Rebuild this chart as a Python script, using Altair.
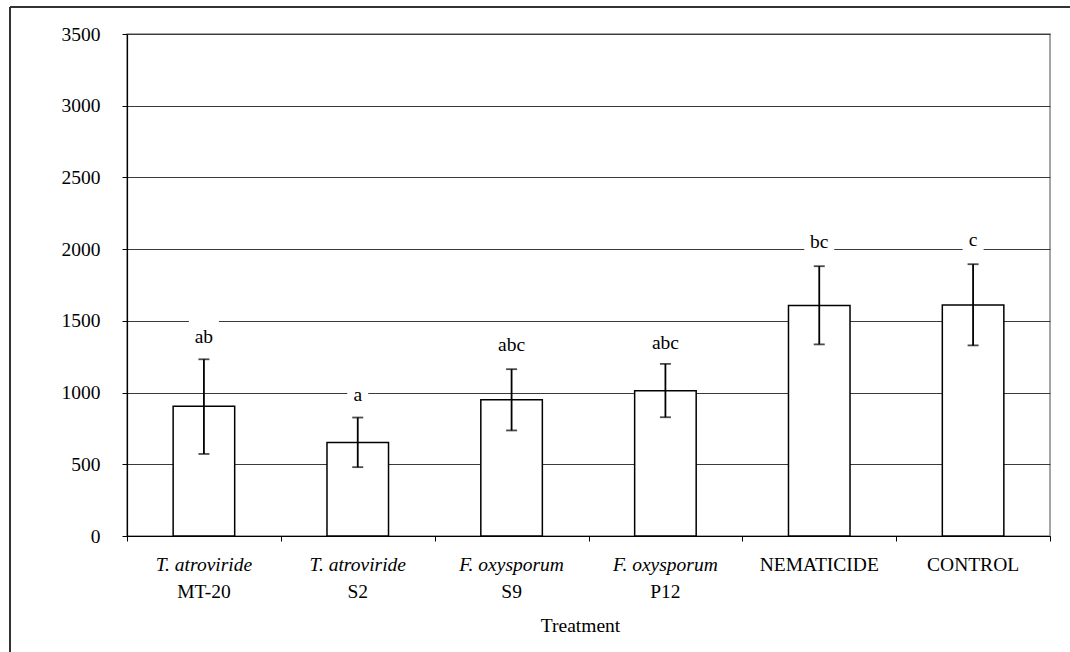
import altair as alt
import pandas as pd

# ---- data ----
line1 = ["T. atroviride", "T. atroviride", "F. oxysporum", "F. oxysporum", "NEMATICIDE", "CONTROL"]
line2 = ["MT-20", "S2", "S9", "P12", "", ""]
italic = [True, True, True, True, False, False]
means = [905, 652, 950, 1012, 1607, 1610]
err_hi = [1232, 826, 1163, 1200, 1881, 1895]
err_lo = [572, 480, 736, 828, 1336, 1329]
letters = ["ab", "a", "abc", "abc", "bc", "c"]
letter_y = [1385, 981, 1329, 1345, 2048, 2066]
y_ticks = [0, 500, 1000, 1500, 2000, 2500, 3000, 3500]

W, H = 923, 502
n = len(line1)
px = n / W  # data units per pixel on x

df = pd.DataFrame({
    "idx": list(range(n)),
    "line1": line1,
    "line2": line2,
    "italic": italic,
    "mean": means,
    "hi": err_hi,
    "lo": err_lo,
    "letter": letters,
    "ly": letter_y,
})
df["bx0"] = df["idx"] - 0.2
df["bx1"] = df["idx"] + 0.2
df["hw"] = df["letter"].str.len() * 4.5 + 6
df["lx0"] = df["idx"] - df["hw"] * px
df["lx1"] = df["idx"] + df["hw"] * px

FONT = "Liberation Serif"
FS = 19.5
xscale = alt.Scale(domain=[-0.5, n - 0.5], nice=False, zero=False)
yscale = alt.Scale(domain=[0, 3500], nice=False)

xaxis = alt.Axis(values=[i - 0.5 for i in range(n + 1)], labels=False, grid=False,
                 tickSize=5, tickColor="black", domainColor="black", domainWidth=1.2,
                 title="Treatment", titleFont=FONT, titleFontSize=FS, titleFontWeight="normal",
                 titleColor="black", titleX=453, titleY=89, titleBaseline="middle",
                 titleAlign="center", titleAnchor="start")
yaxis = alt.Axis(values=y_ticks, format="d", grid=True, gridColor="#3a3a3a", gridWidth=1,
                 tickSize=5, tickColor="black", domainColor="black", domainWidth=1.2,
                 labelFont=FONT, labelFontSize=FS, labelColor="black", labelPadding=22,
                 title=None)

base = alt.Chart(df)

bars = base.mark_bar(fill="white", stroke="black", strokeWidth=1.5).encode(
    x=alt.X("bx0:Q", scale=xscale, axis=xaxis),
    x2="bx1:Q",
    y=alt.Y("mean:Q", scale=yscale, axis=yaxis),
    y2=alt.datum(0),
)

boxes = base.mark_rect(fill="white", yOffset=-19, y2Offset=12).encode(
    x=alt.X("lx0:Q", scale=xscale), x2="lx1:Q",
    y=alt.Y("ly:Q", scale=yscale), y2="ly:Q",
)

err = base.mark_rule(color="black", strokeWidth=1.8).encode(
    x=alt.X("idx:Q", scale=xscale), y=alt.Y("lo:Q", scale=yscale), y2="hi:Q"
)
cap_hi = base.mark_tick(color="black", orient="horizontal", size=11, thickness=1.8).encode(
    x=alt.X("idx:Q", scale=xscale), y=alt.Y("hi:Q", scale=yscale)
)
cap_lo = base.mark_tick(color="black", orient="horizontal", size=11, thickness=1.8).encode(
    x=alt.X("idx:Q", scale=xscale), y=alt.Y("lo:Q", scale=yscale)
)

letter_text = base.mark_text(font=FONT, fontSize=FS, color="black", baseline="middle").encode(
    x=alt.X("idx:Q", scale=xscale), y=alt.Y("ly:Q", scale=yscale), text="letter:N"
)

lab1_it = base.transform_filter("datum.italic").mark_text(
    font=FONT, fontSize=FS, fontStyle="italic", color="black", baseline="middle"
).encode(x=alt.X("idx:Q", scale=xscale), y=alt.value(H + 29), text="line1:N")
lab1_rm = base.transform_filter("!datum.italic").mark_text(
    font=FONT, fontSize=FS, color="black", baseline="middle"
).encode(x=alt.X("idx:Q", scale=xscale), y=alt.value(H + 29), text="line1:N")
lab2 = base.mark_text(font=FONT, fontSize=FS, color="black", baseline="middle").encode(
    x=alt.X("idx:Q", scale=xscale), y=alt.value(H + 56), text="line2:N"
)

# outer frame (partly cropped in the reference): top and left edges
frame_top = alt.Chart(pd.DataFrame({"a": [0]})).mark_rule(color="#333", strokeWidth=2).encode(
    x=alt.value(-117), x2=alt.value(960), y=alt.value(-27)
)
frame_left = alt.Chart(pd.DataFrame({"a": [0]})).mark_rule(color="#333", strokeWidth=2).encode(
    x=alt.value(-117), y=alt.value(-27), y2=alt.value(640)
)

chart = alt.layer(
    bars, boxes, err, cap_hi, cap_lo, letter_text, lab1_it, lab1_rm, lab2, frame_top, frame_left
).properties(
    width=W, height=H,
    autosize=alt.AutoSizeParams(type="none"),
    padding={"left": 127, "top": 34, "right": 20, "bottom": 116},
    background="white",
).configure_view(stroke="#888", strokeWidth=1.5)

chart.save("out.html", embed_options={"renderer": "svg", "actions": False})
